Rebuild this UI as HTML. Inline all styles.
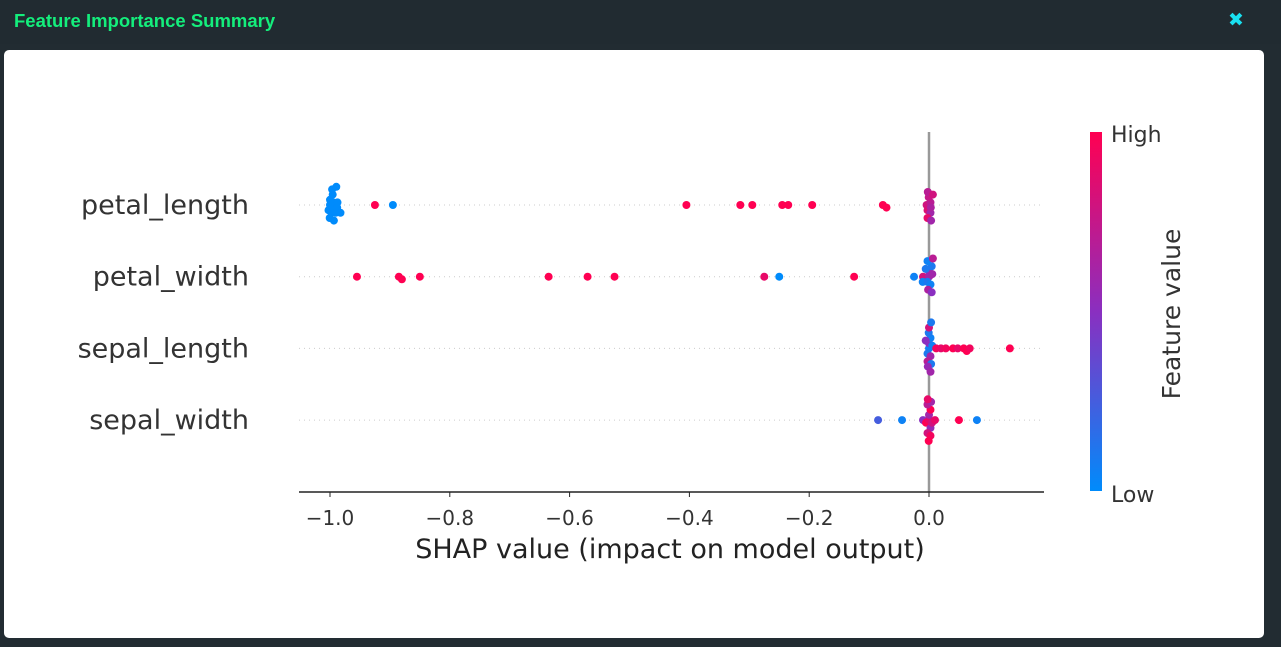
<!DOCTYPE html>
<html><head><meta charset="utf-8"><style>
body{margin:0;width:1281px;height:647px;background:#222c32;font-family:"DejaVu Sans","Liberation Sans",sans-serif;overflow:hidden;position:relative}
#hdr{position:absolute;left:0;top:0;width:1281px;height:44px;background:#212b31}
#title{position:absolute;left:14px;top:10px;color:#14ee7c;font:bold 18.5px "Liberation Sans",sans-serif}
#close{position:absolute;left:1228px;top:9px;color:#19e0f0;font-size:19px;font-weight:bold}
#panel{position:absolute;left:4px;top:50px;width:1260px;height:588px;background:#fff;border-radius:5px}
svg{position:absolute;left:0;top:0}
</style></head><body>
<div id="hdr"><span id="title">Feature Importance Summary</span><span id="close">✖</span></div>
<div id="panel"></div>
<svg id="chart" width="1281" height="647">
<defs><linearGradient id="cg" x1="0" y1="1" x2="0" y2="0"><stop offset="0" stop-color="#008bfb"/><stop offset="0.5" stop-color="#8a2fc0"/><stop offset="1" stop-color="#ff0052"/></linearGradient></defs>
<g id="g"></g>
</svg>
<script>
const features=["petal_length","petal_width","sepal_length","sepal_width"];
const xTicks=[-1.0,-0.8,-0.6,-0.4,-0.2,0.0];
const shapPL=[-1,-1,-1,-1,-0.998,-0.998,-0.997,-0.996,-0.995,-0.994,-0.993,-0.992,-0.99,-0.988,-0.985,-0.925,-0.895,-0.405,-0.315,-0.295,-0.245,-0.235,-0.195,-0.077,-0.071,-0.004,0,0,0,0.002,0.003,0,-0.002,0.001,0.004];
const featPL=[0,0,0,0,0,0,0,0,0,0,0,0,0,0,0,1,0,1,1,1,1,1,1,1,1,0.8,0.7,0.85,0.6,0.75,0.65,0.9,0.7,0.6,0.8];
const shapPW=[-0.955,-0.885,-0.88,-0.85,-0.635,-0.57,-0.525,-0.275,-0.25,-0.125,-0.025,-0.01,-0.008,0,0,0,0,0.002,0.003,-0.003,0.001,0,0.002,0.004];
const featPW=[1,1,1,1,1,1,1,0.9,0,1,0.05,0.8,0.05,0.6,0.1,0.55,0.05,0.1,0.6,0.1,0.65,0.05,0.5,0.7];
const shapSL=[0,0,0,0,0,0,0.001,0.002,-0.002,0,0.003,-0.003,0,0.001,0.012,0.02,0.028,0.04,0.048,0.058,0.063,0.068,0.135];
const featSL=[0.05,0.1,0.5,0.6,0.05,0.7,0.1,0.1,0.55,0.8,0.05,0.5,0.6,0.1,0.95,0.9,0.95,1,0.9,1,1,0.95,1];
const shapSW=[-0.085,-0.045,-0.01,-0.005,0,0,0,0,0,0,0,0.001,0.002,-0.002,0.005,0.01,0.05,0.08];
const featSW=[0.25,0.05,0.5,1,0.9,0.6,0.55,1,0.8,0.95,0.7,0.6,1,0.9,0.8,0.9,1,0.05];
const seriesShap=[shapPL,shapPW,shapSL,shapSW];
const seriesFeat=[featPL,featPW,featSL,featSW];

const NS="http://www.w3.org/2000/svg",g=document.getElementById('g');
const X=v=>929+v*599, Y=i=>205+i*71.7;
function mk(t,a,txt){const e=document.createElementNS(NS,t);for(const k in a)e.setAttribute(k,a[k]);if(txt!=null)e.textContent=txt;g.appendChild(e);return e;}
function col(f){const s=[[0,139,251],[138,47,192],[255,0,82]];let a,b,t;if(f<0.5){a=s[0];b=s[1];t=f/0.5}else{a=s[1];b=s[2];t=(f-0.5)/0.5}return `rgb(${a.map((c,i)=>Math.round(c+(b[i]-c)*t)).join(',')})`;}
features.forEach((f,i)=>{
  const l=mk('line',{x1:299,x2:1044,y1:Y(i),y2:Y(i),stroke:'#ccc','stroke-dasharray':'1,4'});
  
  const t=mk('text',{x:249,y:Y(i)+9,'text-anchor':'end','font-size':'27',fill:'#333'},f);
  
});
const zl=mk('line',{x1:X(0),x2:X(0),y1:132,y2:492,stroke:'#999','stroke-width':2.5});

features.forEach((f,i)=>{
  const placed=[];const r=4;
  seriesShap[i].forEach((v,j)=>{
    let x=X(v);let off=0,k=0;
    while(placed.some(p=>Math.hypot(p[0]-x,p[1]-off)<3.8)){k++;off=(k%2?1:-1)*Math.ceil(k/2)*2.6;x=X(v)+((k%3)-1)*1.5;}
    placed.push([x,off]);
    const c=mk('circle',{cx:x,cy:Y(i)+off,r:r,fill:col(seriesFeat[i][j])});
    
  });
});
const ax=mk('line',{x1:299,x2:1044,y1:492,y2:492,stroke:'#222','stroke-width':1.5});

xTicks.forEach(v=>{
  mk('line',{x1:X(v),x2:X(v),y1:492,y2:497,stroke:'#222'});
  const t=mk('text',{x:X(v),y:525,'text-anchor':'middle','font-size':'20',fill:'#333'},v.toFixed(1).replace('-','\u2212'));
  
});
const at=mk('text',{x:670,y:558,'text-anchor':'middle','font-size':'27',fill:'#222'},'SHAP value (impact on model output)');

const cb=mk('rect',{x:1090,y:132,width:12,height:359,fill:'url(#cg)'});

const hi=mk('text',{x:1111,y:142,'font-size':'22',fill:'#333'},'High');

const lo=mk('text',{x:1111,y:502,'font-size':'22',fill:'#333'},'Low');

const fv=mk('text',{x:1180,y:314,'font-size':'25',fill:'#333','text-anchor':'middle',transform:'rotate(-90 1180 314)'},'Feature value');

</script>
</body></html>
